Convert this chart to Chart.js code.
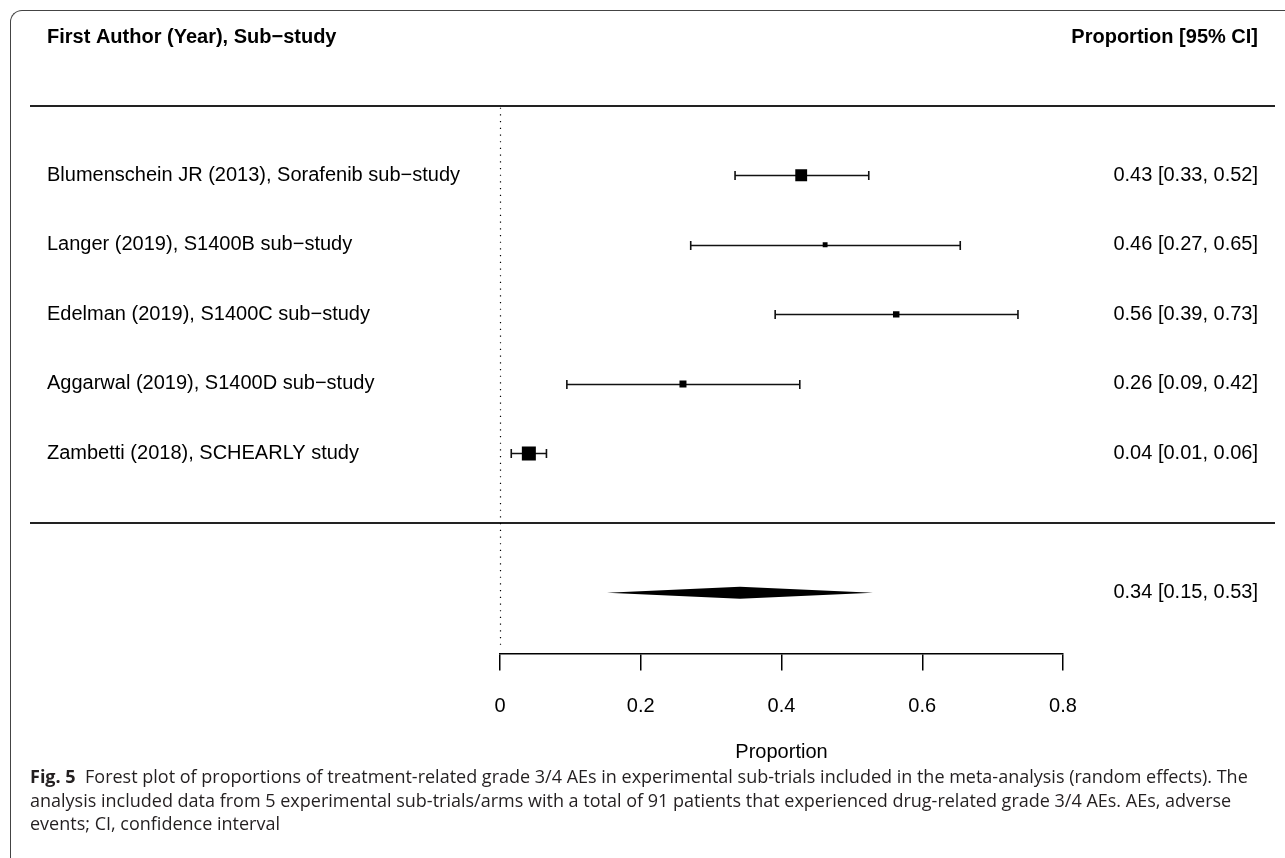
<!DOCTYPE html>
<html>
<head>
<meta charset="utf-8">
<title>Forest plot</title>
<script src="https://cdn.jsdelivr.net/npm/chart.js@4.4.1/dist/chart.umd.min.js"></script>
<style>
  html, body { margin: 0; padding: 0; background: #fff; }
  body { width: 1285px; height: 858px; position: relative; overflow: hidden; }
  #frame {
    position: absolute; left: 10px; top: 10px; width: 1300px; height: 860px;
    border-top: 1px solid #444; border-left: 1px solid #444;
    border-radius: 12px 0 0 12px;
  }
  #wrap { position: absolute; left: 0; top: 0; width: 1285px; height: 770px; }
  #caption {
    position: absolute; left: 30px; top: 765px;
    font-family: "Open Sans", "Noto Sans", sans-serif; font-size: 18px;
    line-height: 23.5px; color: #231f20; white-space: nowrap;
    letter-spacing: 0;
  }
  #caption b { font-weight: 700; }
</style>
</head>
<body>
<div id="frame"></div>
<div id="wrap"><canvas id="forest" width="1285" height="770"></canvas></div>
<div id="caption"><b>Fig. 5</b>&nbsp; Forest plot of proportions of treatment-related grade 3/4 AEs in experimental sub-trials included in the meta-analysis (random effects). The<br>analysis included data from 5 experimental sub-trials/arms with a total of 91 patients that experienced drug-related grade 3/4 AEs. AEs, adverse<br>events; CI, confidence interval</div>

<script>
(function () {
    "use strict";

    // Data
    var studies = [
        "Blumenschein JR (2013), Sorafenib sub\u2212study",
        "Langer (2019), S1400B sub\u2212study",
        "Edelman (2019), S1400C sub\u2212study",
        "Aggarwal (2019), S1400D sub\u2212study",
        "Zambetti (2018), SCHEARLY study"
    ];
    var estimates = [0.428, 0.462, 0.563, 0.260, 0.041];
    var lower = [0.334, 0.271, 0.391, 0.095, 0.016];
    var upper = [0.524, 0.654, 0.736, 0.426, 0.066];
    var weights = [22, 9, 12, 13, 26];
    var ciLabels = [
        "0.43 [0.33, 0.52]",
        "0.46 [0.27, 0.65]",
        "0.56 [0.39, 0.73]",
        "0.26 [0.09, 0.42]",
        "0.04 [0.01, 0.06]"
    ];
    var pooledEst = 0.341, pooledLow = 0.152, pooledHigh = 0.530;
    var pooledLabel = "0.34 [0.15, 0.53]";
    var xTicks = [0, 0.2, 0.4, 0.6, 0.8];

    var FONT = "'Liberation Sans', Arial, Helvetica, sans-serif";
    var maxW = Math.max.apply(null, weights);

    // rows: header at -2, top rule at -1, studies 0..4, rule at 5, pooled at 6
    var points = estimates.map(function (v, i) { return {x: v, y: i}; });
    var radii = weights.map(function (w) { return (14 * w / maxW) / Math.SQRT2; });

    var forestPlugin = {
        id: 'forest',
        beforeDatasetsDraw: function (chart) {
            var ctx = chart.ctx;
            var xs = chart.scales.x, ys = chart.scales.y;
            ctx.save();

            // header
            ctx.fillStyle = '#000';
            ctx.textBaseline = 'middle';
            ctx.font = "bold 20px " + FONT;
            ctx.textAlign = 'left';
            ctx.fillText("First Author (Year), Sub\u2212study", 47, ys.getPixelForValue(-2) + 1);
            ctx.textAlign = 'right';
            ctx.fillText("Proportion [95% CI]", 1258, ys.getPixelForValue(-2) + 1);

            // rules
            ctx.strokeStyle = '#222';
            ctx.lineWidth = 2;
            [-1, 5].forEach(function (r) {
                var y = Math.round(ys.getPixelForValue(r));
                ctx.beginPath();
                ctx.moveTo(30, y);
                ctx.lineTo(1275, y);
                ctx.stroke();
            });

            // reference line at 0
            var x0 = Math.round(xs.getPixelForValue(0)) + 0.5;
            ctx.setLineDash([1.2, 5.5]);
            ctx.lineWidth = 1.2;
            ctx.strokeStyle = '#000';
            ctx.beginPath();
            ctx.moveTo(x0, ys.getPixelForValue(-1) + 2);
            ctx.lineTo(x0, ys.getPixelForValue(6.78));
            ctx.stroke();
            ctx.setLineDash([]);

            // confidence intervals
            ctx.lineWidth = 1.6;
            ctx.strokeStyle = '#111';
            studies.forEach(function (s, i) {
                var y = Math.round(ys.getPixelForValue(i)) + 0.5;
                var a = xs.getPixelForValue(lower[i]);
                var b = xs.getPixelForValue(upper[i]);
                ctx.beginPath();
                ctx.moveTo(a, y); ctx.lineTo(b, y);
                ctx.moveTo(a, y - 4.5); ctx.lineTo(a, y + 4.5);
                ctx.moveTo(b, y - 4.5); ctx.lineTo(b, y + 4.5);
                ctx.stroke();
            });

            // pooled diamond
            var yd = ys.getPixelForValue(6);
            ctx.fillStyle = '#000';
            ctx.beginPath();
            ctx.moveTo(xs.getPixelForValue(pooledLow), yd);
            ctx.lineTo(xs.getPixelForValue(pooledEst), yd - 6);
            ctx.lineTo(xs.getPixelForValue(pooledHigh), yd);
            ctx.lineTo(xs.getPixelForValue(pooledEst), yd + 6);
            ctx.closePath();
            ctx.fill();

            // row labels
            ctx.font = "20px " + FONT;
            ctx.fillStyle = '#000';
            studies.forEach(function (s, i) {
                var y = ys.getPixelForValue(i);
                ctx.textAlign = 'left';
                ctx.fillText(s, 47, y);
                ctx.textAlign = 'right';
                ctx.fillText(ciLabels[i], 1258, y);
            });
            ctx.textAlign = 'right';
            ctx.fillText(pooledLabel, 1258, yd);

            ctx.restore();
        }
    };

    var ctx = document.getElementById('forest').getContext('2d');
    var forestChart = new Chart(ctx, {
        type: 'scatter',
        data: {
            datasets: [{
                label: 'Proportion',
                data: points,
                pointStyle: 'rect',
                pointRadius: radii,
                pointHoverRadius: radii,
                pointBackgroundColor: '#000',
                pointBorderWidth: 0,
                showLine: false
            }]
        },
        options: {
            responsive: false,
            animation: false,
            devicePixelRatio: 1,
            events: [],
            layout: {padding: {left: 500, right: 222, top: 10, bottom: 0}},
            plugins: {
                legend: {display: false},
                tooltip: {enabled: false}
            },
            scales: {
                x: {
                    type: 'linear',
                    position: 'bottom',
                    min: 0,
                    max: 0.8,
                    afterBuildTicks: function (scale) {
                        scale.ticks = xTicks.map(function (v) { return {value: v}; });
                    },
                    afterFit: function (scale) {
                        scale.height = 116.5;
                    },
                    grid: {
                        display: true,
                        drawOnChartArea: false,
                        drawTicks: true,
                        tickLength: 17,
                        color: '#000',
                        lineWidth: 1.5
                    },
                    border: {display: true, color: '#000', width: 1.5},
                    ticks: {
                        color: '#000',
                        font: {family: FONT, size: 20},
                        padding: 24,
                        maxRotation: 0,
                        autoSkip: false,
                        callback: function (v) { return String(v); }
                    },
                    title: {
                        display: true,
                        text: 'Proportion',
                        color: '#000',
                        font: {family: FONT, size: 20},
                        padding: {top: 0, bottom: 6}
                    }
                },
                y: {
                    type: 'linear',
                    display: false,
                    reverse: true,
                    min: -2.375,
                    max: 6.875
                }
            }
        },
        plugins: [forestPlugin]
    });
})();
</script>
</body>
</html>
